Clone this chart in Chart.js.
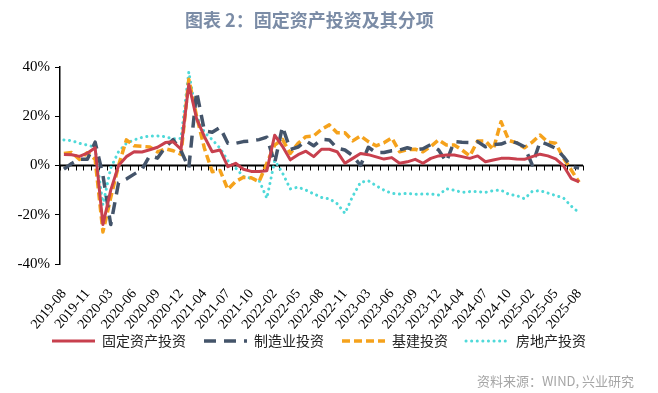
<!DOCTYPE html>
<html>
<head>
<meta charset="utf-8">
<script src="https://cdn.jsdelivr.net/npm/chart.js@4.4.1/dist/chart.umd.min.js"></script>
<style>
html, body { margin: 0; padding: 0; background: #fff; }
#wrap { position: relative; width: 658px; height: 393px; overflow: hidden; }
#c { position: absolute; left: 0; top: 0; }
#ttl { position: absolute; left: 185px; top: 6px; font: bold 18px "Noto Sans CJK SC"; color: #7b8ca6; white-space: nowrap; }
#src { position: absolute; right: 24px; top: 371px; font: 13px "Noto Sans CJK SC"; color: #a6a6a6; white-space: nowrap; }
</style>
</head>
<body>
<div id="wrap">
  <canvas id="c" width="658" height="393"></canvas>
  <div id="ttl">图表 2：固定资产投资及其分项</div>
  <div id="src">资料来源：WIND, 兴业研究</div>
</div>
<script>
// 月份（1月与2月合并）
var months = [
    "2019-08", "2019-09", "2019-10", "2019-11", "2019-12",
    "2020-02", "2020-03", "2020-04", "2020-05", "2020-06", "2020-07", "2020-08", "2020-09", "2020-10", "2020-11", "2020-12",
    "2021-02", "2021-03", "2021-04", "2021-05", "2021-06", "2021-07", "2021-08", "2021-09", "2021-10", "2021-11", "2021-12",
    "2022-02", "2022-03", "2022-04", "2022-05", "2022-06", "2022-07", "2022-08", "2022-09", "2022-10", "2022-11", "2022-12",
    "2023-02", "2023-03", "2023-04", "2023-05", "2023-06", "2023-07", "2023-08", "2023-09", "2023-10", "2023-11", "2023-12",
    "2024-02", "2024-03", "2024-04", "2024-05", "2024-06", "2024-07", "2024-08", "2024-09", "2024-10", "2024-11", "2024-12",
    "2025-02", "2025-03", "2025-04", "2025-05", "2025-06", "2025-07", "2025-08"
];

// 当月同比，%
var fai = [
    4.5, 4.4, 3.7, 5.0, 7.2, -24.0, -10.0, 0.0, 3.6, 5.6,
    5.5, 6.4, 7.4, 9.3, 9.6, 6.6, 33.0, 19.0, 11.7, 5.6,
    6.3, -0.5, 0.9, -1.5, -2.4, -2.4, -2.1, 12.3, 7.8, 2.3,
    4.4, 5.8, 3.6, 6.6, 6.6, 5.6, 0.9, 2.9, 4.9, 4.4,
    3.5, 2.6, 3.2, 0.9, 1.5, 2.5, 0.9, 2.9, 3.9, 4.3,
    4.3, 3.6, 2.9, 3.9, 1.5, 2.2, 2.9, 2.9, 2.6, 2.5,
    3.6, 4.6, 3.9, 2.7, -0.1, -5.3, -6.6
];
var mfg = [
    -1.5, 0.8, 2.5, 2.5, 9.5, -4.0, -24.0, -7.0, -5.5, -3.5,
    -1.5, 4.0, 3.0, 7.5, 10.5, 6.0, -1.0, 30.0, 14.0, 13.5,
    15.5, 9.0, 9.0, 9.7, 10.0, 10.5, 11.5, 1.0, 15.8, 6.5,
    7.5, 10.0, 8.0, 10.6, 10.4, 7.0, 6.3, 4.0, 0.0, 7.4,
    5.2, 5.3, 6.0, 6.3, 7.2, 6.3, 6.8, 8.5, 6.3, 1.5,
    9.7, 9.4, 9.3, 9.7, 7.6, 8.5, 8.7, 10.0, 9.2, 7.6,
    0.2, 9.7, 8.5, 7.0, 3.6, -0.5, -1.0
];
var infra = [
    4.9, 5.3, 2.5, 5.2, 2.5, -27.0, -13.0, 0.0, 10.4, 8.0,
    7.8, 7.5, 5.5, 6.8, 6.0, 4.5, 35.0, 20.0, 7.0, -2.5,
    -2.0, -9.7, -6.5, -4.8, -5.0, -6.6, 0.9, 8.3, 10.6, 4.9,
    9.0, 11.7, 12.0, 14.7, 16.5, 13.3, 13.3, 10.0, 12.0, 9.7,
    8.0, 9.2, 11.2, 5.6, 6.4, 6.6, 5.6, 7.7, 10.4, 8.3,
    8.3, 6.3, 3.9, 10.0, 10.0, 6.5, 17.8, 10.2, 9.2, 7.2,
    9.5, 12.4, 9.5, 9.0, 3.0, -1.8, -6.8
];
var estate = [
    10.4, 10.1, 9.0, 8.3, 7.4, -16.0, -1.0, 5.6, 9.0, 10.4,
    11.4, 12.0, 12.0, 11.7, 10.8, 11.0, 38.0, 20.0, 13.5, 10.5,
    7.0, 2.0, -1.0, -4.5, -5.2, -6.0, -13.3, 2.0, -3.0, -9.5,
    -8.8, -10.0, -11.5, -13.0, -13.5, -15.5, -19.4, -12.5, -6.8, -6.2,
    -8.2, -10.0, -11.3, -11.6, -11.3, -11.7, -11.6, -11.5, -12.0, -9.5,
    -10.0, -10.9, -10.6, -10.6, -10.9, -10.2, -10.0, -11.7, -12.2, -13.5,
    -10.5, -10.2, -11.2, -12.2, -13.2, -16.5, -19.2
];

var names = ["固定资产投资", "制造业投资", "基建投资", "房地产投资"];
var yTicks = [-40, -20, 0, 20, 40];

var serif = "Liberation Serif";

// 0 轴 + 类目刻度
var zeroAxis = {
    id: "zeroAxis",
    beforeDatasetsDraw: function (ch) {
        var xs = ch.scales.x, ys = ch.scales.y, a = ch.chartArea, ctx = ch.ctx;
        var y0 = ys.getPixelForValue(0);
        var half = (xs.getPixelForValue(1) - xs.getPixelForValue(0)) / 2;
        ctx.save();
        ctx.strokeStyle = "#000";
        ctx.lineWidth = 1;
        for (var i = 0; i <= months.length; i++) {
            var x = Math.round(xs.getPixelForValue(i) - half) + 0.5;
            ctx.beginPath();
            ctx.moveTo(x, y0);
            ctx.lineTo(x, y0 + 5);
            ctx.stroke();
        }
        ctx.lineWidth = 2;
        ctx.beginPath();
        ctx.moveTo(a.left, y0);
        ctx.lineTo(a.right, y0);
        ctx.stroke();
        ctx.restore();
    }
};

// 图例上移，让斜排的月份标签有足够高度
var legendLift = {
    id: "legendLift",
    afterLayout: function (ch) {
        if (!ch.legend) return;
        ch.legend.top -= 20;
        ch.legend.bottom -= 20;
    }
};

function ds(label, data, color, w, dash, cap) {
    return {
        label: label,
        data: data,
        borderColor: color,
        backgroundColor: color,
        borderWidth: w,
        borderDash: dash,
        borderCapStyle: cap,
        borderJoinStyle: "round",
        pointRadius: 0,
        pointHoverRadius: 0,
        tension: 0,
        fill: false
    };
}

new Chart(document.getElementById("c"), {
    type: "line",
    data: {
        labels: months,
        datasets: [
            ds(names[0], fai, "#c8404e", 3, [], "butt"),
            ds(names[1], mfg, "#44546a", 3.5, [12, 8], "butt"),
            ds(names[2], infra, "#f5a21c", 3.5, [8, 4], "butt"),
            ds(names[3], estate, "#4fd9d9", 3, [0.1, 5.5], "round")
        ]
    },
    options: {
        responsive: false,
        animation: false,
        devicePixelRatio: 1,
        layout: { padding: { top: 67, right: 20, bottom: 15, left: 0 } },
        plugins: {
            title: { display: false },
            tooltip: { enabled: false },
            legend: {
                position: "bottom",
                labels: {
                    usePointStyle: true,
                    pointStyleWidth: 43,
                    padding: 18,
                    color: "#222",
                    font: { family: "Noto Sans CJK SC", size: 14 },
                    generateLabels: function (ch) {
                        return ch.data.datasets.map(function (d, i) {
                            return {
                                text: d.label,
                                fillStyle: d.borderColor,
                                strokeStyle: d.borderColor,
                                lineWidth: d.borderWidth,
                                lineDash: d.borderDash,
                                lineCap: d.borderCapStyle,
                                pointStyle: "line",
                                fontColor: "#222",
                                hidden: false,
                                datasetIndex: i
                            };
                        });
                    }
                }
            }
        },
        scales: {
            x: {
                offset: true,
                grid: { display: false },
                border: { display: false },
                ticks: {
                    autoSkip: false,
                    minRotation: 50,
                    maxRotation: 50,
                    padding: 14,
                    color: "#000",
                    font: { family: serif, size: 14 },
                    callback: function (v, i) { return i % 3 === 0 ? months[i] : ""; }
                },
                afterFit: function (s) { s.height = 72; }
            },
            y: {
                min: -40,
                max: 40,
                afterBuildTicks: function (s) { s.ticks = yTicks.map(function (v) { return { value: v }; }); },
                grid: { drawOnChartArea: false, drawTicks: true, tickLength: 5, color: "#000" },
                border: { color: "#000", width: 1.5 },
                ticks: {
                    color: "#000",
                    padding: 5,
                    font: { family: serif, size: 15 },
                    callback: function (v) { return v + "%"; }
                },
                afterFit: function (s) { s.width = 60; }
            },
            y2: {
                position: "right",
                display: true,
                grid: { display: false },
                border: { display: false },
                ticks: { display: false },
                afterFit: function (s) { s.width = 55; }
            }
        }
    },
    plugins: [zeroAxis, legendLift]
});
</script>
</body>
</html>
